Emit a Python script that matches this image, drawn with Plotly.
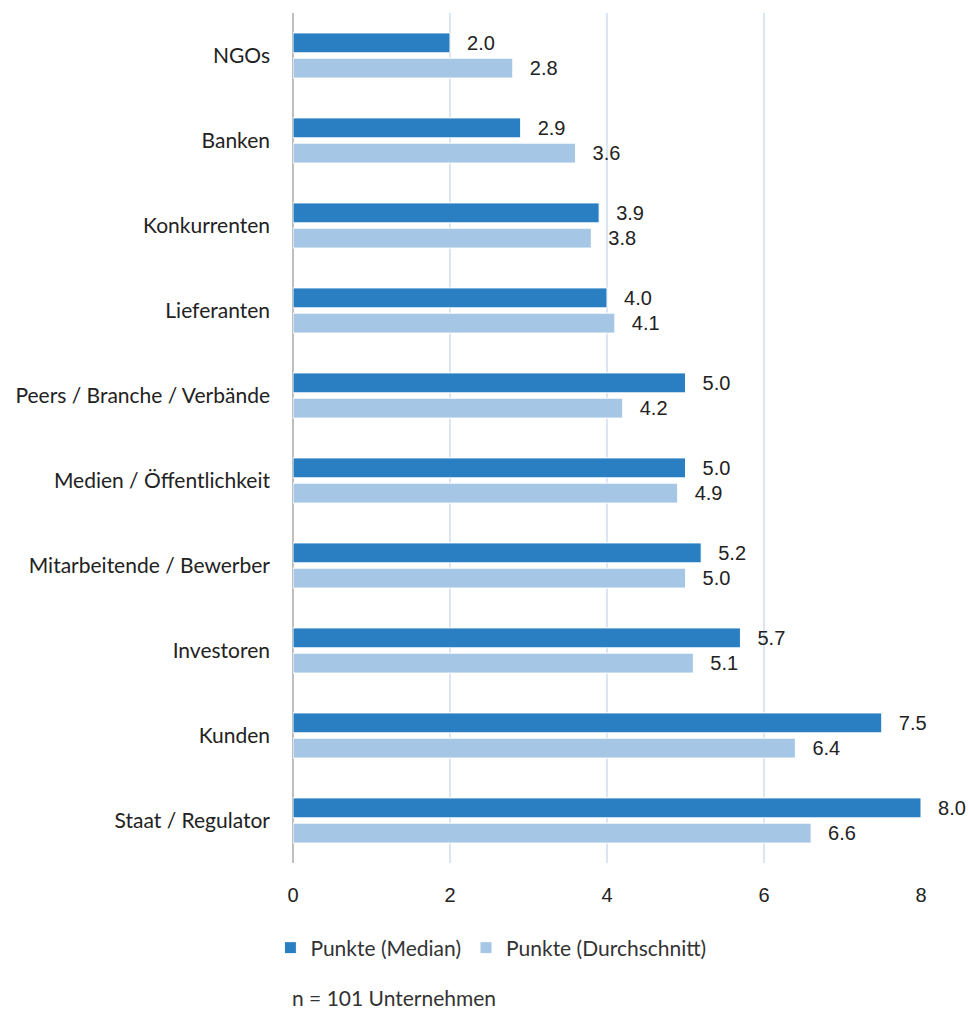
import plotly.graph_objects as go

# Stakeholder groups, top to bottom
categories = [
    "NGOs",
    "Banken",
    "Konkurrenten",
    "Lieferanten",
    "Peers / Branche / Verbände",
    "Medien / Öffentlichkeit",
    "Mitarbeitende / Bewerber",
    "Investoren",
    "Kunden",
    "Staat / Regulator",
]
median_values = [2.0, 2.9, 3.9, 4.0, 5.0, 5.0, 5.2, 5.7, 7.5, 8.0]
mean_values = [2.8, 3.6, 3.8, 4.1, 4.2, 4.9, 5.0, 5.1, 6.4, 6.6]
x_ticks = [0, 2, 4, 6, 8]

COLOR_MEDIAN = "#2A7FC2"
COLOR_MEAN = "#A6C6E5"
LABEL_FONT = dict(family="Liberation Sans, Arial, sans-serif", size=20, color="#222222")
CAT_FONT = dict(family="Lato, sans-serif", size=21, color="#222222")

fig = go.Figure()
for name, vals, color in [
    ("Punkte (Median)", median_values, COLOR_MEDIAN),
    ("Punkte (Durchschnitt)", mean_values, COLOR_MEAN),
]:
    fig.add_trace(go.Bar(
        name=name,
        x=vals,
        y=categories,
        orientation="h",
        marker=dict(color=color, line=dict(color="white", width=1)),
        texttemplate="\u2002\u2009%{x:.1f}",
        textposition="outside",
        textfont=LABEL_FONT,
        constraintext="none",
        cliponaxis=False,
        hoverinfo="skip",
    ))

fig.update_layout(
    width=968,
    height=1010,
    margin=dict(l=293, r=47, t=13, b=147),
    paper_bgcolor="white",
    plot_bgcolor="white",
    barmode="group",
    bargap=0.406,
    bargroupgap=0.21,
    showlegend=True,
    legend=dict(
        orientation="h",
        x=-0.036,
        xanchor="left",
        y=-0.1,
        yanchor="middle",
        font=dict(family="Lato, sans-serif", size=21, color="#333333"),
        traceorder="normal",
        itemwidth=30,
    ),
    xaxis=dict(
        range=[0, 8],
        tickvals=x_ticks,
        showgrid=True,
        gridcolor="#DCE6F2",
        gridwidth=1.5,
        zeroline=True,
        zerolinecolor="#BFBFBF",
        zerolinewidth=2,
        showline=False,
        ticks="",
        ticklabelstandoff=18,
        tickfont=dict(family="Liberation Sans, Arial, sans-serif", size=20, color="#222222"),
    ),
    yaxis=dict(
        autorange="reversed",
        showgrid=False,
        ticks="",
        ticklabelstandoff=22,
        tickfont=CAT_FONT,
    ),
    annotations=[
        dict(
            text="n = 101 Unternehmen",
            xref="paper",
            yref="paper",
            x=-0.005,
            y=-0.158,
            xanchor="left",
            yanchor="middle",
            showarrow=False,
            font=dict(family="Lato, sans-serif", size=21, color="#333333"),
        )
    ],
)

fig.write_html("out.html")
